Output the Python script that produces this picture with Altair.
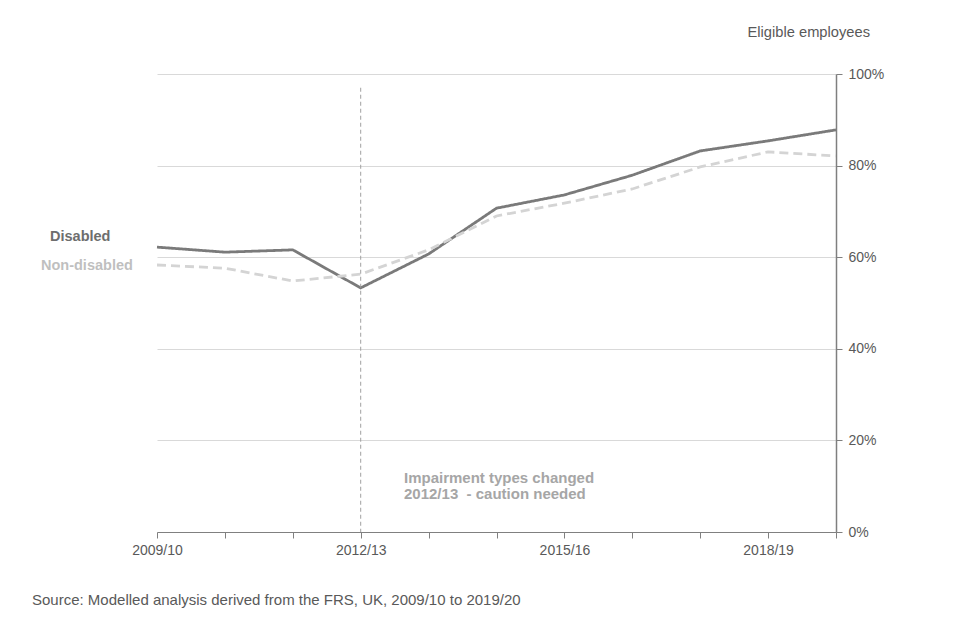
import altair as alt
import pandas as pd

years = ["2009/10", "2010/11", "2011/12", "2012/13", "2013/14", "2014/15",
         "2015/16", "2016/17", "2017/18", "2018/19", "2019/20"]
disabled = [62.2, 61.1, 61.6, 53.3, 60.7, 70.7, 73.6, 77.9, 83.2, 85.4, 87.8]
non_disabled = [58.3, 57.6, 54.8, 56.3, 61.6, 69.0, 71.8, 74.9, 79.7, 83.0, 82.1]
shown_labels = ["2009/10", "2012/13", "2015/16", "2018/19"]
y_ticks = [0, 20, 40, 60, 80, 100]

FONT = "Liberation Sans, Arial, sans-serif"
TXT = "#595959"

df = pd.DataFrame({
    "year": years * 2,
    "value": disabled + non_disabled,
    "group": ["Disabled"] * len(years) + ["Non-disabled"] * len(years),
})

label_list = "[" + ",".join("'" + s + "'" for s in shown_labels) + "]"

x_enc = alt.X("year:O", sort=years,
              scale=alt.Scale(type="point", padding=0),
              axis=alt.Axis(title=None, labelAngle=0, grid=False,
                            labelExpr=f"indexof({label_list}, datum.value) >= 0 ? datum.value : ''",
                            domainColor="#808080", tickColor="#808080", tickSize=6,
                            labelColor=TXT, labelFontSize=14, labelFont=FONT, labelPadding=5,
                            labelFlush=False))
y_enc = alt.Y("value:Q", scale=alt.Scale(domain=[0, 100], nice=False),
              axis=alt.Axis(orient="right", title=None, values=y_ticks,
                            labelExpr="datum.value + '%'",
                            grid=True, gridColor="#d9d9d9", gridWidth=1,
                            domainColor="#7f7f7f", domainWidth=1.5,
                            tickColor="#7f7f7f", tickSize=6,
                            labelColor=TXT, labelFontSize=14, labelFont=FONT, labelPadding=6))

lines = alt.Chart(df).mark_line(strokeWidth=2.8).encode(
    x=x_enc, y=y_enc,
    color=alt.Color("group:N", scale=alt.Scale(domain=["Disabled", "Non-disabled"],
                                               range=["#7a7a7a", "#d4d4d4"]), legend=None),
    strokeDash=alt.StrokeDash("group:N", scale=alt.Scale(domain=["Disabled", "Non-disabled"],
                                                         range=[[1, 0], [9, 5]]), legend=None),
)

rule_df = pd.DataFrame({"year": ["2012/13"], "top": [97.0], "bottom": [0.0]})
rule = alt.Chart(rule_df).mark_rule(color="#a0a0a0", strokeWidth=1, strokeDash=[4, 3]).encode(
    x=alt.X("year:O", sort=years), y="top:Q", y2="bottom:Q")

ann_df = pd.DataFrame({"t": ["Impairment types changed", "2012/13\u00a0 - caution needed"],
                       "v": [11.8, 8.3]})
ann = alt.Chart(ann_df).mark_text(align="left", baseline="middle", fontWeight="bold",
                                  fontSize=15, font=FONT, color="#a6a6a6").encode(
    x=alt.value(247), y="v:Q", text="t:N")

leg_df = pd.DataFrame({"t": ["Disabled", "Non-disabled"], "v": [64.4, 58.1],
                       "c": ["#6e6e6e", "#bfbfbf"], "px": [-107, -116]})
leg = alt.Chart(leg_df).mark_text(align="left", baseline="middle", fontWeight="bold",
                                  fontSize=14.5, font=FONT).encode(
    x=alt.X("px:Q", scale=None), y="v:Q", text="t:N",
    color=alt.Color("c:N", scale=None))

title_txt = alt.Chart(pd.DataFrame({"t": ["Eligible employees"]})).mark_text(
    align="right", baseline="middle", fontSize=14.7, font=FONT, color=TXT).encode(
    x=alt.value(713), y=alt.value(-41), text="t:N")

source_txt = alt.Chart(pd.DataFrame({"t": ["Source: Modelled analysis derived from the FRS, UK, 2009/10 to 2019/20"]})).mark_text(
    align="left", baseline="middle", fontSize=15, font=FONT, color=TXT).encode(
    x=alt.value(-125), y=alt.value(526), text="t:N")

chart = alt.layer(lines, rule, ann, leg, title_txt, source_txt).properties(
    width=679, height=458,
    padding={"left": 149, "top": 66, "right": 100, "bottom": 90},
    autosize=alt.AutoSizeParams(type="none"),
    background="white",
).configure_view(stroke=None)

chart.save("out.html", embed_options={"renderer": "svg", "actions": False})
